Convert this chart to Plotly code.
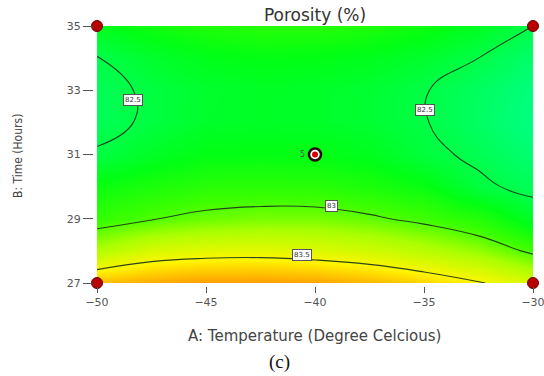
import plotly.graph_objects as go

# Factor grid (A: temperature, B: time) and predicted porosity (%)
temperature = [-50, -47.5, -45, -42.5, -40, -37.5, -35, -32.5, -30]
time_hours = [27, 28, 29, 30, 31, 32, 33, 34, 35]
porosity = [
    [83.70, 83.76, 83.80, 83.80, 83.78, 83.72, 83.63, 83.52, 83.36],  # 27 h
    [83.22, 83.37, 83.41, 83.42, 83.39, 83.34, 83.25, 83.14, 82.96],  # 28 h
    [82.90, 82.99, 83.05, 83.08, 83.08, 83.03, 82.95, 82.84, 82.62],  # 29 h
    [82.74, 82.81, 82.86, 82.87, 82.86, 82.81, 82.73, 82.54, 82.44],  # 30 h
    [82.52, 82.63, 82.70, 82.71, 82.70, 82.66, 82.55, 82.46, 82.34],  # 31 h
    [82.44, 82.53, 82.61, 82.63, 82.62, 82.58, 82.51, 82.40, 82.27],  # 32 h
    [82.44, 82.53, 82.60, 82.63, 82.62, 82.58, 82.51, 82.41, 82.29],  # 33 h
    [82.49, 82.60, 82.67, 82.70, 82.69, 82.66, 82.60, 82.50, 82.37],  # 34 h
    [82.66, 82.76, 82.82, 82.85, 82.85, 82.81, 82.75, 82.64, 82.50],  # 35 h
]

# Contour levels
level_start, level_end, level_step = 82.5, 83.5, 0.5

# Design points: factorial corners and the replicated centre point
corner_temp = [-50, -50, -30, -30]
corner_time = [27, 35, 27, 35]
center_temp = [-40]
center_time = [31]
center_reps = ["5"]

# Contour label texts and where they sit on their lines
label_text = ["82.5", "82.5", "83", "83.5"]
label_temp = [-48.35, -34.95, -39.24, -40.6]
label_time = [32.7, 32.4, 29.39, 27.87]

x_ticks = [-50, -45, -40, -35, -30]
y_ticks = [27, 29, 31, 33, 35]

colorscale = [
    [0.0, "rgb(0,255,150)"],
    [0.3, "rgb(0,255,20)"],
    [0.45, "rgb(60,255,0)"],
    [0.6, "rgb(170,255,0)"],
    [0.8, "rgb(255,245,0)"],
    [1.0, "rgb(255,140,0)"],
]

W, H = 544, 376
L, R, T, B = 93, 11, 26, 90
PW, PH = W - L - R, H - T - B


def px_to_paper(px, py):
    return (px - L) / PW, (H - B - py) / PH


fig = go.Figure()

fig.add_trace(go.Heatmap(
    x=temperature, y=time_hours, z=porosity,
    zsmooth="best", colorscale=colorscale, zmin=82.2, zmax=83.85,
    showscale=False, hoverinfo="skip",
))

fig.add_trace(go.Contour(
    x=temperature, y=time_hours, z=porosity,
    contours=dict(start=level_start, end=level_end, size=level_step,
                  coloring="none", showlabels=False),
    line=dict(color="rgba(25,50,25,0.9)", width=1.1, smoothing=1.3),
    showscale=False, hoverinfo="skip",
))

fig.add_trace(go.Scatter(
    x=corner_temp, y=corner_time, mode="markers",
    marker=dict(size=11, color="#b80000", line=dict(color="#6a0000", width=1)),
    cliponaxis=False, hoverinfo="skip",
))

fig.add_trace(go.Scatter(
    x=center_temp, y=center_time, mode="markers",
    marker=dict(size=12, color="white", line=dict(color="#2a0a0a", width=2.5)),
    cliponaxis=False, hoverinfo="skip",
))
fig.add_trace(go.Scatter(
    x=center_temp, y=center_time, mode="markers",
    marker=dict(size=6, color="#d40000"),
    cliponaxis=False, hoverinfo="skip",
))

annotations = []
for t, xv, yv in zip(label_text, label_temp, label_time):
    annotations.append(dict(
        x=xv, y=yv, xref="x", yref="y", text=t, showarrow=False,
        font=dict(family="DejaVu Sans", size=7, color="#333"),
        bgcolor="white", bordercolor="#555", borderwidth=1, borderpad=1,
    ))
annotations.append(dict(
    x=center_temp[0], y=center_time[0], xref="x", yref="y", text=center_reps[0],
    showarrow=False, xanchor="right", xshift=-8,
    font=dict(family="DejaVu Sans", size=8, color="#555"),
))

ax, ay = px_to_paper(314, 336)
annotations.append(dict(
    x=ax, y=ay, xref="paper", yref="paper",
    text="A: Temperature (Degree Celcious)", showarrow=False,
    xanchor="center", yanchor="middle",
    font=dict(family="DejaVu Sans", size=15, color="#444"),
))
ax, ay = px_to_paper(18, 156)
annotations.append(dict(
    x=ax, y=ay, xref="paper", yref="paper",
    text="B: Time (Hours)", showarrow=False, textangle=-90,
    xanchor="center", yanchor="middle",
    font=dict(family="DejaVu Sans Condensed, Roboto", size=12, color="#444"),
))
ax, ay = px_to_paper(279, 362)
annotations.append(dict(
    x=ax, y=ay, xref="paper", yref="paper",
    text="(c)", showarrow=False,
    xanchor="center", yanchor="middle",
    font=dict(family="Liberation Serif", size=19, color="#111"),
))

tick_font = dict(family="DejaVu Sans", size=11, color="#555")

fig.update_layout(
    width=W, height=H,
    margin=dict(l=L, r=R, t=T, b=B, autoexpand=False),
    paper_bgcolor="white", plot_bgcolor="white",
    showlegend=False,
    title=dict(text="Porosity (%)", x=315 / W, xref="container", xanchor="center",
               y=1 - 15 / H, yref="container", yanchor="middle",
               font=dict(family="DejaVu Sans", size=17, color="#333")),
    xaxis=dict(range=[-50, -30], domain=[4 / PW, 1], anchor="free", position=0,
               tickvals=x_ticks, ticks="outside", ticklen=6, tickcolor="#555",
               ticklabeloverflow="allow", automargin=False,
               showgrid=False, zeroline=False, showline=False,
               tickfont=tick_font),
    yaxis=dict(range=[27, 35], domain=[3 / PH, 1], anchor="free", position=0,
               tickvals=y_ticks, ticks="outside", ticklen=10, tickcolor="#555",
               automargin=False,
               showgrid=False, zeroline=False, showline=False,
               tickfont=tick_font),
    annotations=annotations,
)

fig.write_html("out.html")
